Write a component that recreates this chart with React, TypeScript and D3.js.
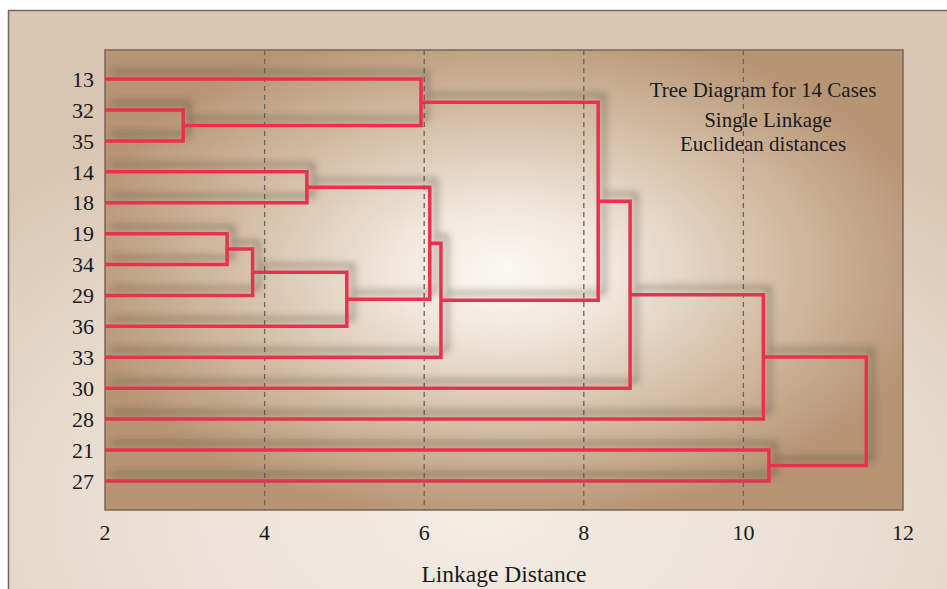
import React from "react";
import * as d3 from "d3";

const leaves = ["13", "32", "35", "14", "18", "19", "34", "29", "36", "33", "30", "28", "21", "27"];
// merges: [left child, right child, linkage distance]; merge ids are c1..c13 in order
const mergeLeft = ["32", "19", "c2", "14", "c3", "13", "c4", "c7", "c6", "c9", "c10", "21", "c11"];
const mergeRight = ["35", "34", "29", "18", "36", "c1", "c5", "33", "c8", "30", "28", "27", "c12"];
const mergeHeight = [2.98, 3.53, 3.85, 4.53, 5.03, 5.96, 6.07, 6.21, 8.18, 8.58, 10.25, 10.32, 11.54];
const xTicks = [2, 4, 6, 8, 10, 12];
const gridTicks = [4, 6, 8, 10];
const titleLines = ["Tree Diagram for 14 Cases", "Single Linkage", "Euclidean distances"];

const W = 947;
const H = 589;
const plot = { left: 105, top: 50, right: 903, bottom: 510 };
const FONT = "'Liberation Serif', 'Times New Roman', serif";

export default function App() {
  const x = d3.scaleLinear().domain([2, 12]).range([plot.left, plot.right]);
  const y = d3.scalePoint<string>().domain(leaves).range([plot.top, plot.bottom]).padding(0.94);

  const pos: Record<string, { x: number; y: number }> = {};
  leaves.forEach((l) => (pos[l] = { x: x(2), y: y(l)! }));
  const paths: string[] = [];
  mergeHeight.forEach((h, i) => {
    const a = pos[mergeLeft[i]];
    const b = pos[mergeRight[i]];
    const hx = x(h);
    const p = d3.path();
    p.moveTo(a.x, a.y);
    p.lineTo(hx, a.y);
    p.lineTo(hx, b.y);
    p.lineTo(b.x, b.y);
    paths.push(p.toString());
    pos["c" + (i + 1)] = { x: hx, y: (a.y + b.y) / 2 };
  });

  const titleX = [763, 768, 763];
  const titleY = [97, 127, 151];

  return (
    <svg
      width={W}
      height={H}
      style={{ position: "absolute", left: 0, top: 0, display: "block" }}
    >
      <defs>
        <radialGradient id="outerBg" cx="0.5" cy="0.85" r="0.75">
          <stop offset="0" stopColor="#f4ede6" />
          <stop offset="0.6" stopColor="#e8dccf" />
          <stop offset="1" stopColor="#d9c5b1" />
        </radialGradient>
        <radialGradient id="plotBg" cx="0.5" cy="0.48" r="0.55">
          <stop offset="0" stopColor="#fbf8f4" />
          <stop offset="0.25" stopColor="#f1e7dc" />
          <stop offset="0.6" stopColor="#d6c0a9" />
          <stop offset="1" stopColor="#b69474" />
        </radialGradient>
        <filter id="shadow" x="-20%" y="-20%" width="140%" height="140%">
          <feDropShadow dx="6" dy="-7" stdDeviation="3.5" floodColor="#3a3530" floodOpacity="0.5" />
        </filter>
      </defs>
      <rect x={0} y={0} width={W} height={H} fill="#ffffff" />
      <rect x={8.5} y={10.5} width={W} height={H} fill="url(#outerBg)" stroke="#6e6a68" strokeWidth={1.5} />
      <rect
        x={plot.left}
        y={plot.top}
        width={plot.right - plot.left}
        height={plot.bottom - plot.top}
        fill="url(#plotBg)"
        stroke="#7a6656"
        strokeWidth={1.5}
      />
      {gridTicks.map((t) => (
        <line
          key={t}
          x1={x(t)}
          x2={x(t)}
          y1={plot.top}
          y2={plot.bottom}
          stroke="#6a625c"
          strokeWidth={1.3}
          strokeDasharray="5,4"
        />
      ))}
      <g filter="url(#shadow)">
        {paths.map((d, i) => (
          <path key={i} d={d} fill="none" stroke="#e8324e" strokeWidth={3.5} strokeLinejoin="miter" />
        ))}
      </g>
      {leaves.map((l) => (
        <text
          key={l}
          x={94}
          y={y(l)!}
          dy="0.35em"
          textAnchor="end"
          fontFamily={FONT}
          fontSize={22}
          fill="#1a1a1a"
        >
          {l}
        </text>
      ))}
      {xTicks.map((t) => (
        <text key={t} x={x(t)} y={540} textAnchor="middle" fontFamily={FONT} fontSize={22} fill="#1a1a1a">
          {t}
        </text>
      ))}
      <text x={504} y={582} textAnchor="middle" fontFamily={FONT} fontSize={23.5} fill="#1a1a1a">
        Linkage Distance
      </text>
      {titleLines.map((t, i) => (
        <text key={t} x={titleX[i]} y={titleY[i]} textAnchor="middle" fontFamily={FONT} fontSize={21} fill="#1a1a1a">
          {t}
        </text>
      ))}
    </svg>
  );
}
